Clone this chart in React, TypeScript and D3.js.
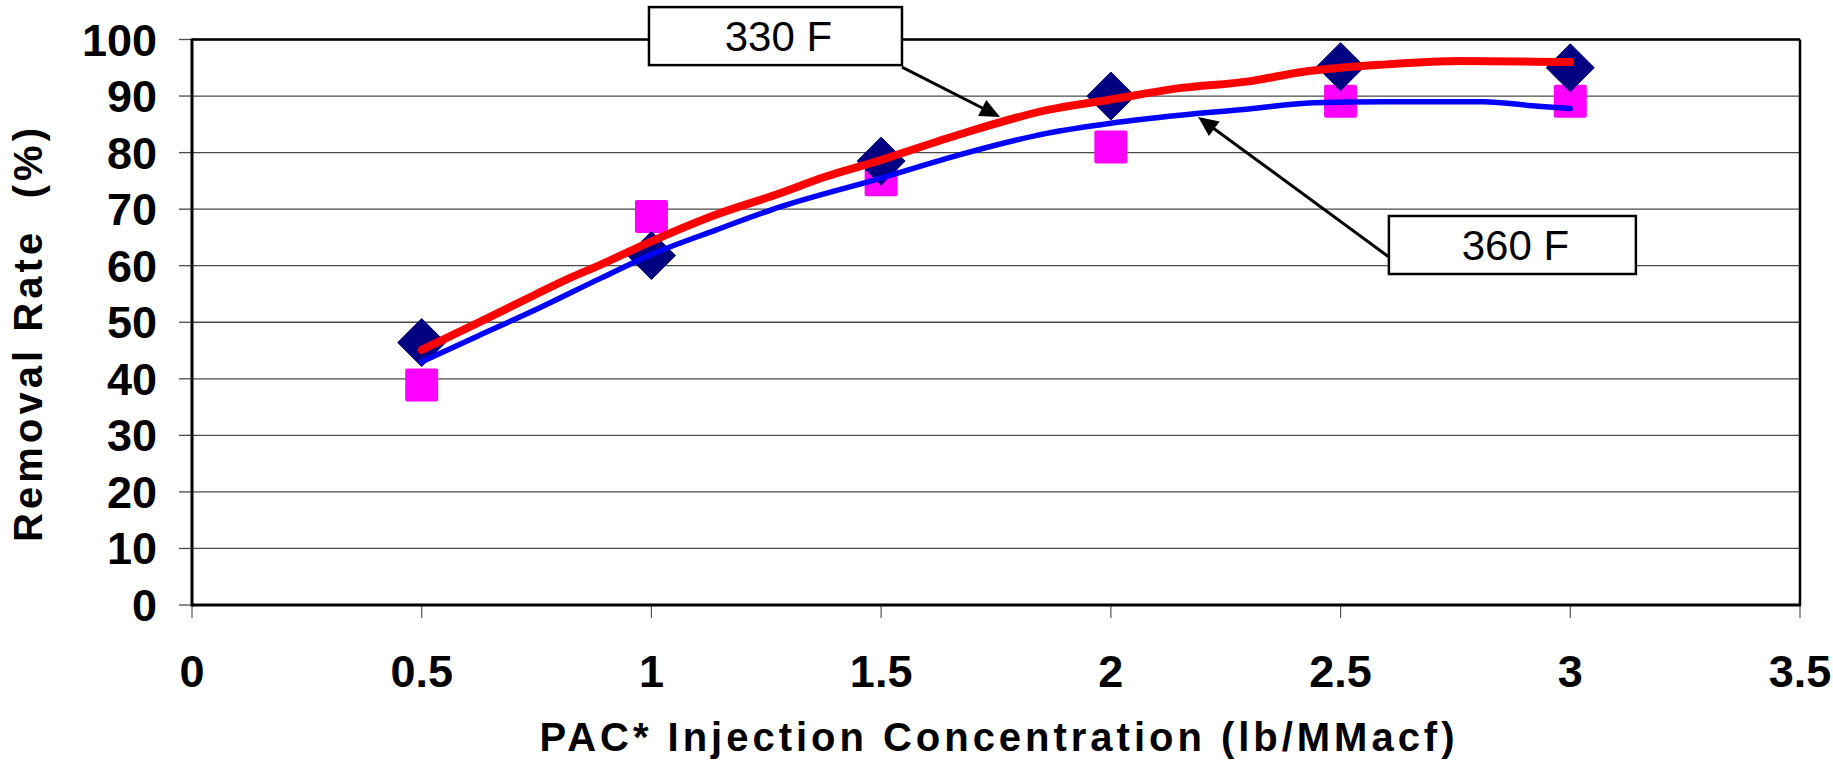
import React from "react";
import * as d3 from "d3";

// ---- data ----
const xTicks = [0, 0.5, 1, 1.5, 2, 2.5, 3, 3.5];
const yTicks = [0, 10, 20, 30, 40, 50, 60, 70, 80, 90, 100];
const conc = [0.5, 1, 1.5, 2, 2.5, 3];
const removal330 = [46.4, 61.8, 78.5, 90.0, 95.2, 95.0];
const removal360 = [38.9, 68.7, 75.2, 81.0, 89.1, 89.1];

const fit330X = [0.5, 0.62, 0.75, 0.83, 0.89, 1.0, 1.14, 1.28, 1.37, 1.5, 1.67, 1.86, 2.0, 2.15, 2.3, 2.42, 2.6, 2.76, 3.0];
const fit330Y = [45.1, 49.8, 55.0, 58.1, 60.2, 64.3, 69.0, 72.8, 75.5, 78.7, 83.2, 87.5, 89.4, 91.4, 92.6, 94.3, 95.6, 96.2, 96.0];
const fit360X = [0.5, 0.62, 0.75, 0.89, 1.0, 1.14, 1.28, 1.5, 1.67, 1.86, 2.0, 2.15, 2.3, 2.44, 2.6, 2.81, 2.93, 3.0];
const fit360Y = [43.0, 47.5, 52.3, 57.8, 62.0, 66.3, 70.4, 75.5, 79.6, 83.4, 85.2, 86.6, 87.7, 88.8, 89.0, 89.0, 88.2, 87.8];

const labels = ["330 F", "360 F"];
// annotation box centres and arrow tips, in data units
const labelBoxX = [1.27, 2.874];
const labelBoxY = [100.6, 63.66];
const arrowTipX = [1.7588, 2.19];
const arrowTipY = [86.3, 86.3];

const xTitle = "PAC* Injection Concentration (lb/MMacf)";
const yTitle = "Removal Rate  (%)";

// ---- layout ----
const W = 1833;
const H = 766;
const FONT = "Liberation Sans, Arial, Helvetica, sans-serif";

export default function App() {
  const x = d3.scaleLinear().domain([0, 3.5]).range([192, 1800]);
  const y = d3.scaleLinear().domain([0, 100]).range([605, 39.5]);

  const line = d3
    .line<[number, number]>()
    .x((d) => x(d[0]))
    .y((d) => y(d[1]))
    .curve(d3.curveMonotoneX);

  const red = line(fit330X.map((v, i) => [v, fit330Y[i]]) as [number, number][]) || "";
  const blue = line(fit360X.map((v, i) => [v, fit360Y[i]]) as [number, number][]) || "";

  const boxW = [253, 247];
  const boxH = 58;

  const arrowHead = (x0: number, y0: number, x1: number, y1: number) => {
    const dx = x1 - x0;
    const dy = y1 - y0;
    const len = Math.sqrt(dx * dx + dy * dy);
    const ux = dx / len;
    const uy = dy / len;
    const L = 20;
    const Wd = 9;
    const bx = x1 - ux * L;
    const by = y1 - uy * L;
    return `M${x1},${y1}L${bx - uy * Wd},${by + ux * Wd}L${bx + uy * Wd},${by - ux * Wd}Z`;
  };

  const dsize = 24;
  const ssize = 33;

  return (
    <div style={{ position: "absolute", left: 0, top: 0 }}>
      <svg width={W} height={H} style={{ display: "block", background: "#fff" }}>
        <rect x={0} y={0} width={W} height={H} fill="#fff" />
        {/* gridlines */}
        {yTicks.map((t) => (
          <line key={"g" + t} x1={x(0)} x2={x(3.5)} y1={y(t)} y2={y(t)} stroke="#4a4a4a" strokeWidth={1.3} />
        ))}
        {/* y ticks */}
        {yTicks.map((t) => (
          <line key={"yt" + t} x1={x(0) - 13} x2={x(0)} y1={y(t)} y2={y(t)} stroke="#4a4a4a" strokeWidth={1.3} />
        ))}
        {/* x ticks */}
        {xTicks.map((t) => (
          <line key={"xt" + t} x1={x(t)} x2={x(t)} y1={y(0)} y2={y(0) + 13} stroke="#555" strokeWidth={1.2} />
        ))}
        {/* frame */}
        <line x1={x(0)} x2={x(3.5)} y1={y(100)} y2={y(100)} stroke="#000" strokeWidth={2.5} />
        <line x1={x(3.5)} x2={x(3.5)} y1={y(100)} y2={y(0)} stroke="#000" strokeWidth={2.5} />
        <line x1={x(0)} x2={x(0)} y1={y(100) - 1} y2={y(0) + 1.5} stroke="#000" strokeWidth={3} />
        <line x1={x(0)} x2={x(3.5) + 1} y1={y(0)} y2={y(0)} stroke="#000" strokeWidth={3} />

        {/* markers */}
        {conc.map((c, i) => (
          <rect
            key={"sq" + i}
            x={x(c) - ssize / 2}
            y={y(removal360[i]) - ssize / 2}
            width={ssize}
            height={ssize}
            rx={2}
            fill="#FF00FF"
          />
        ))}
        {conc.map((c, i) => {
          const cx = x(c);
          const cy = y(removal330[i]);
          return (
            <path
              key={"dm" + i}
              d={`M${cx},${cy - dsize}L${cx + dsize},${cy}L${cx},${cy + dsize}L${cx - dsize},${cy}Z`}
              fill="#000080"
              stroke="#000080"
              strokeWidth={1}
              strokeLinejoin="round"
            />
          );
        })}

        {/* fitted lines */}
        <path d={blue} fill="none" stroke="#0000FF" strokeWidth={5.5} strokeLinecap="round" strokeLinejoin="round" />
        <path d={red} fill="none" stroke="#FF0000" strokeWidth={8} strokeLinecap="round" strokeLinejoin="round" />

        {/* tick labels */}
        {yTicks.map((t) => (
          <text
            key={"yl" + t}
            x={157}
            y={y(t) + 16}
            textAnchor="end"
            fontFamily={FONT}
            fontWeight="bold"
            fontSize={45}
            fill="#000"
          >
            {t}
          </text>
        ))}
        {xTicks.map((t) => (
          <text
            key={"xl" + t}
            x={x(t)}
            y={687}
            textAnchor="middle"
            fontFamily={FONT}
            fontWeight="bold"
            fontSize={45}
            fill="#000"
          >
            {t}
          </text>
        ))}

        {/* axis titles */}
        <text
          x={997}
          y={751}
          textAnchor="middle"
          fontFamily={FONT}
          fontWeight="bold"
          fontSize={40}
          textLength={915}
          lengthAdjust="spacing"
          fill="#000"
        >
          {xTitle}
        </text>
        <text
          transform={`translate(42,335) rotate(-90)`}
          textAnchor="middle"
          fontFamily={FONT}
          fontWeight="bold"
          fontSize={40}
          textLength={414}
          lengthAdjust="spacing"
          fill="#000"
          style={{ whiteSpace: "pre" }}
        >
          {yTitle}
        </text>

        {/* annotations */}
        {labels.map((lab, i) => {
          const cx = x(labelBoxX[i]);
          const cy = y(labelBoxY[i]);
          const bw = boxW[i];
          const left = cx - bw / 2;
          const top = cy - boxH / 2;
          const tx = x(arrowTipX[i]);
          const ty = y(arrowTipY[i]);
          const sx = i === 0 ? left + bw : left;
          const sy = i === 0 ? top + boxH + 2 : cy + 12;
          const dx = tx - sx;
          const dy = ty - sy;
          const len = Math.sqrt(dx * dx + dy * dy);
          const ex = tx - (dx / len) * 16;
          const ey = ty - (dy / len) * 16;
          return (
            <g key={"ann" + i}>
              <line x1={sx} y1={sy} x2={ex} y2={ey} stroke="#000" strokeWidth={3} />
              <path d={arrowHead(sx, sy, tx, ty)} fill="#000" />
              <rect x={left} y={top} width={bw} height={boxH} fill="#fff" stroke="#000" strokeWidth={2.5} />
              <text
                x={cx + 3}
                y={cy + 15}
                textAnchor="middle"
                fontFamily={FONT}
                fontSize={42}
                fill="#000"
              >
                {lab}
              </text>
            </g>
          );
        })}
      </svg>
    </div>
  );
}
